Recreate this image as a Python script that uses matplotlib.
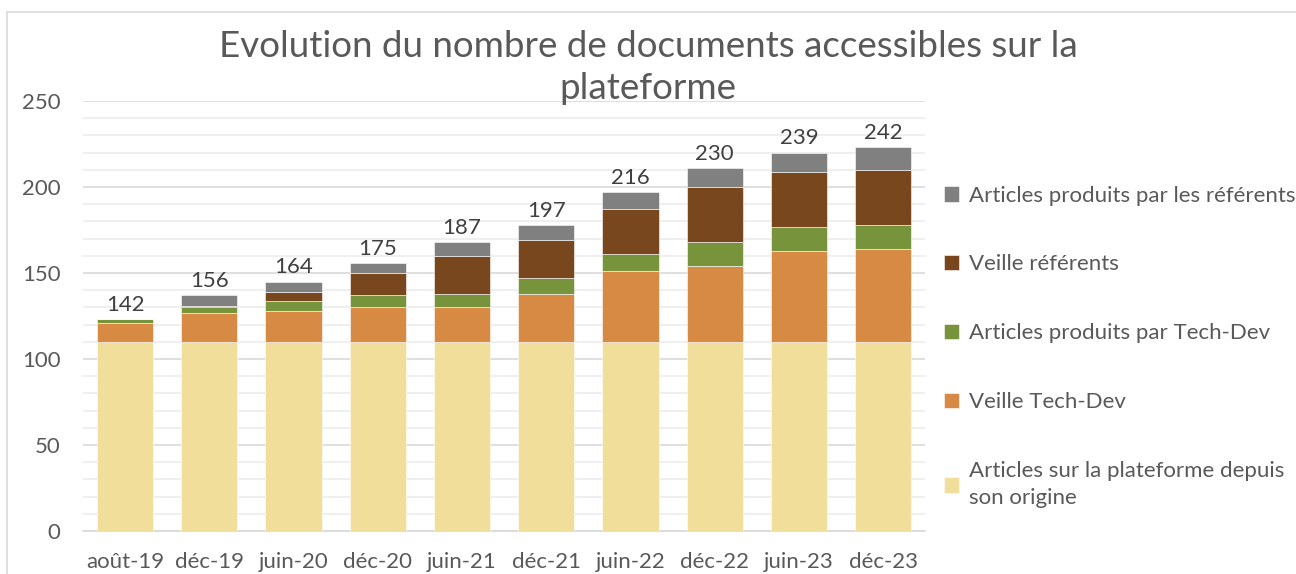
import matplotlib
matplotlib.use("Agg")
import matplotlib.pyplot as plt
from matplotlib.patches import Rectangle
from matplotlib.ticker import MultipleLocator
import numpy as np

plt.rcParams['font.family'] = ['Lato', 'DejaVu Sans']

periods = ['août-19', 'déc-19', 'juin-20', 'déc-20', 'juin-21',
           'déc-21', 'juin-22', 'déc-22', 'juin-23', 'déc-23']
origine = [110, 110, 110, 110, 110, 110, 110, 110, 110, 110]
veille_techdev = [11, 17, 18, 20, 20, 28, 41, 44, 53, 54]
articles_techdev = [2, 3, 6, 7, 8, 9, 10, 14, 14, 14]
veille_referents = [0, 1, 5, 13, 22, 22, 26, 32, 32, 32]
articles_referents = [0, 6, 6, 6, 8, 9, 10, 11, 11, 13]
totals = [142, 156, 164, 175, 187, 197, 216, 230, 239, 242]

series = [
    ("Articles sur la plateforme depuis\nson origine", origine, "#F2DE9B"),
    ("Veille Tech-Dev", veille_techdev, "#D68A44"),
    ("Articles produits par Tech-Dev", articles_techdev, "#77933C"),
    ("Veille référents", veille_referents, "#78471E"),
    ("Articles produits par les référents", articles_referents, "#808080"),
]

fig = plt.figure(figsize=(12.96, 5.74), dpi=100)
ax = fig.add_axes([0.064, 0.075, 0.65, 0.749])

# chart border
fig.patches.append(Rectangle((7 / 1296, -0.1), 1.2, 1 - 12 / 574 + 0.1,
                             transform=fig.transFigure, fill=False,
                             edgecolor="#d9d9d9", linewidth=1.2))

x = np.arange(len(periods))
bottom = np.zeros(len(periods))
handles = []
for label, vals, color in series:
    b = ax.bar(x, vals, 0.667, bottom=bottom, color=color, label=label,
               edgecolor="white", linewidth=0.4, zorder=3)
    handles.append(b)
    bottom += np.array(vals)

for xi, top, t in zip(x, bottom, totals):
    ax.annotate(str(t), (xi, top), xytext=(0, 3), textcoords="offset points",
                ha="center", va="bottom", fontsize=16, color="#404040")

ax.set_xlim(-0.5, len(periods) - 0.5)
ax.set_ylim(0, 250)
ax.yaxis.set_major_locator(MultipleLocator(50))
ax.yaxis.set_minor_locator(MultipleLocator(10))
ax.grid(axis="y", which="major", color="#d9d9d9", linewidth=1.2, zorder=0)
ax.grid(axis="y", which="minor", color="#ececec", linewidth=1.2, zorder=0)
ax.set_xticks(x)
ax.set_xticklabels(periods)
ax.tick_params(axis="both", which="both", length=0, labelsize=16,
               labelcolor="#595959")
ax.tick_params(axis="x", pad=15)
ax.tick_params(axis="y", pad=16)
for s in ["top", "right", "left"]:
    ax.spines[s].set_visible(False)
ax.spines["bottom"].set_color("#d9d9d9")
ax.spines["bottom"].set_linewidth(1.2)

fig.text(0.5, 0.882, "Evolution du nombre de documents accessibles sur la\nplateforme",
         ha="center", va="center", fontsize=26.5, color="#595959",
         linespacing=1.33)

leg = ax.legend(handles=handles[::-1], loc="upper left",
                bbox_to_anchor=(0.998, 0.85),
                frameon=False, fontsize=16, labelspacing=2.2,
                handlelength=0.7, handleheight=0.7, handletextpad=0.45,
                labelcolor="#595959")
for t in leg.get_texts():
    t.set_linespacing(1.45)

fig.savefig("out.png", dpi=100)
